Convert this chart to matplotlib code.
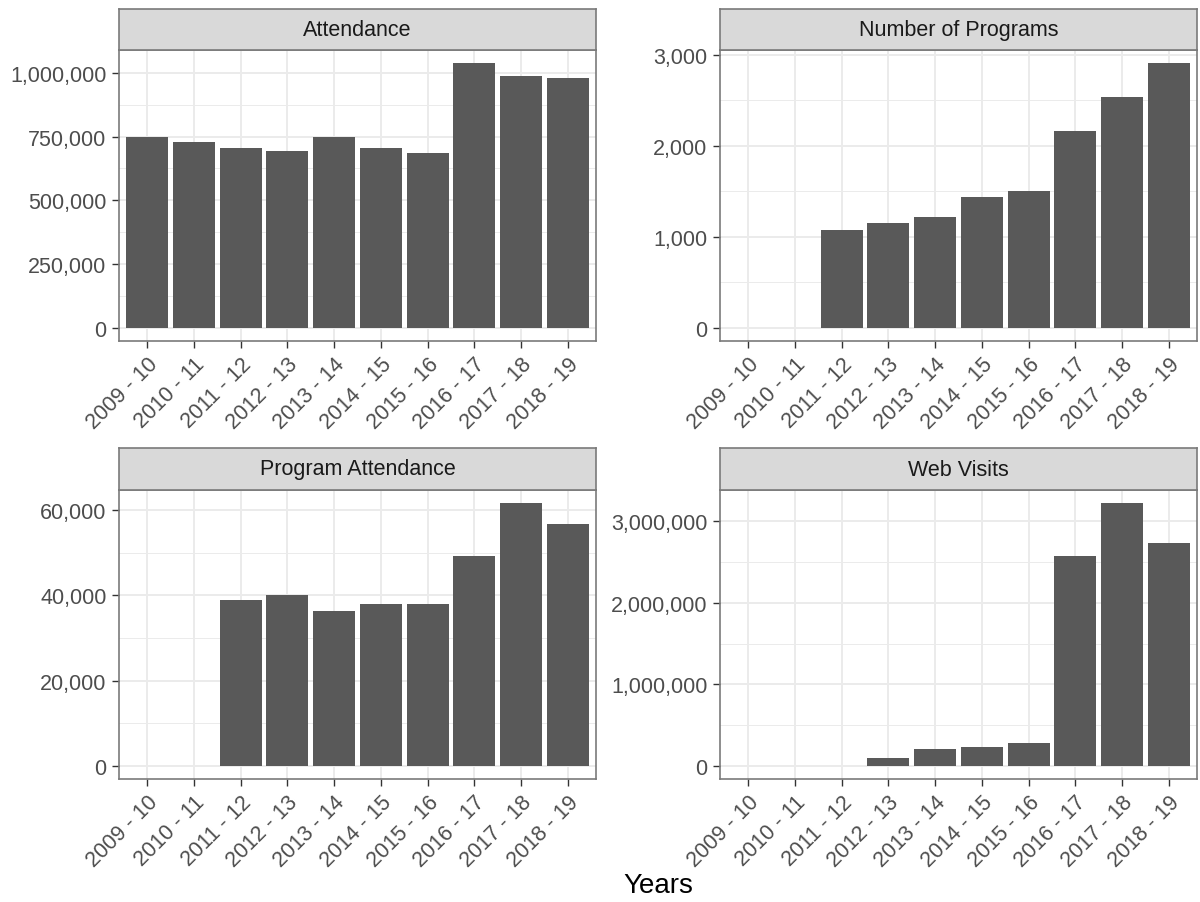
import numpy as np
import matplotlib.pyplot as plt
from matplotlib.ticker import FuncFormatter, MultipleLocator

plt.rcParams['font.family'] = ['Liberation Sans', 'DejaVu Sans']

years = ["2009 - 10", "2010 - 11", "2011 - 12", "2012 - 13", "2013 - 14",
         "2014 - 15", "2015 - 16", "2016 - 17", "2017 - 18", "2018 - 19"]

attendance = [750000, 728000, 706000, 692000, 750000,
              706000, 684000, 1038000, 987000, 980000]
num_programs = [np.nan, np.nan, 1070, 1150, 1213,
                1441, 1504, 2165, 2537, 2908]
program_attendance = [np.nan, np.nan, 38800, 40100, 36300,
                      38000, 38000, 49300, 61600, 56700]
web_visits = [np.nan, np.nan, np.nan, 93000, 207000,
              228000, 276000, 2581000, 3224000, 2740000]

titles = ["Attendance", "Number of Programs", "Program Attendance", "Web Visits"]
series = [attendance, num_programs, program_attendance, web_visits]
major_steps = [250000, 1000, 20000, 1000000]

W, H = 1200, 903
fig = plt.figure(figsize=(W / 100, H / 100), dpi=100)

# panel boxes in pixels: left, right, strip top, plot top, plot bottom
boxes = [
    (119, 596, 10, 51, 342),
    (720, 1197, 10, 51, 342),
    (119, 596, 449, 491, 780),
    (720, 1197, 449, 491, 780),
]

border = '#7a7a7a'
comma = FuncFormatter(lambda v, p: f"{v:,.0f}")

for (l, r, st, pt, pb), title, vals, step in zip(boxes, titles, series, major_steps):
    ax = fig.add_axes([l / W, 1 - pb / H, (r - l) / W, (pb - pt) / H])
    x = np.arange(len(years))
    v = np.array(vals, dtype=float)
    ok = ~np.isnan(v)
    ax.bar(x[ok], v[ok], width=0.9, color='#595959', zorder=3)

    top = np.nanmax(v)
    ax.set_ylim(-0.05 * top, 1.05 * top)
    ax.set_xlim(-0.6, len(years) - 0.4)

    ax.yaxis.set_major_locator(MultipleLocator(step))
    ax.yaxis.set_minor_locator(MultipleLocator(step / 2))
    ax.yaxis.set_major_formatter(comma)
    ax.set_xticks(x)
    ax.set_xticklabels(years, rotation=45, ha='right', va='top',
                       rotation_mode='anchor')

    ax.grid(which='major', color='#EBEBEB', linewidth=1.4, zorder=0)
    ax.grid(which='minor', axis='y', color='#EBEBEB', linewidth=0.7, zorder=0)
    ax.set_axisbelow(True)

    ax.tick_params(axis='both', which='major', length=5, width=1,
                   color='#333333', labelsize=15.5, labelcolor='#4D4D4D', pad=4)
    ax.tick_params(axis='y', which='minor', length=0)
    for s in ax.spines.values():
        s.set_color(border)
        s.set_linewidth(1.2)

    sax = fig.add_axes([l / W, 1 - pt / H, (r - l) / W, (pt - st) / H])
    sax.set_facecolor('#D9D9D9')
    sax.set_xticks([])
    sax.set_yticks([])
    for s in sax.spines.values():
        s.set_color(border)
        s.set_linewidth(1.2)
    sax.text(0.5, 0.5, title, ha='center', va='center', fontsize=15.5,
             color='#1A1A1A', transform=sax.transAxes)

fig.text((119 + 1197) / 2 / W, 1 - 886 / H, "Years", ha='center', va='center',
         fontsize=20, color='black')

plt.savefig('out.png', dpi=100)
